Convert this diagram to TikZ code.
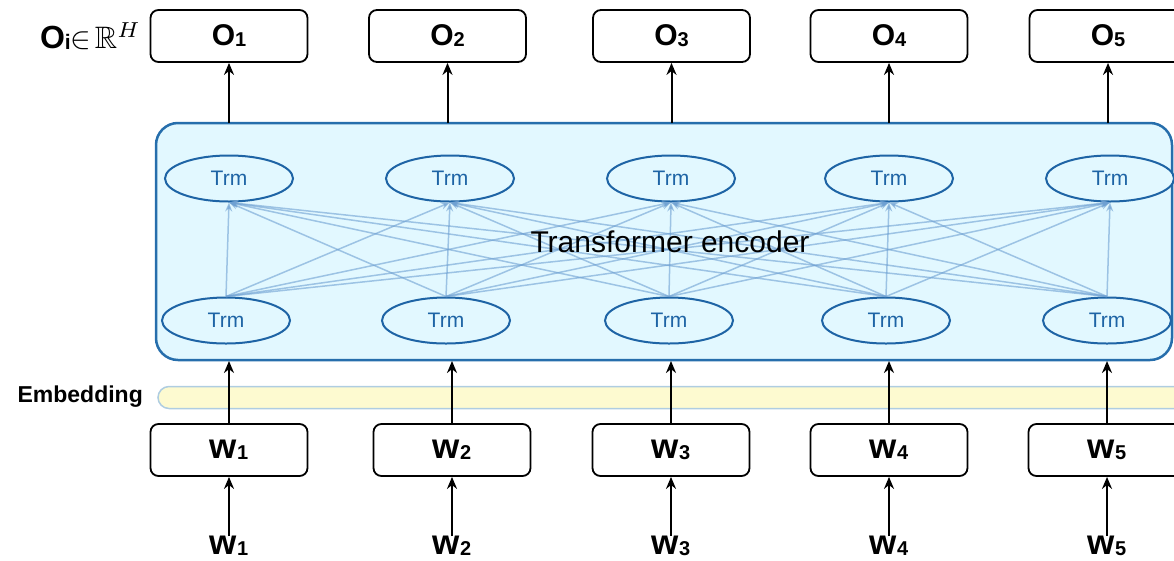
\documentclass[tikz,border=0pt]{standalone}
\usepackage{amssymb}
\usepackage{graphicx}
\usepackage{fontspec}
\setmainfont{Liberation Sans}
\usetikzlibrary{arrows.meta,shapes.geometric}
\definecolor{encfill}{RGB}{226,248,255}
\definecolor{encline}{RGB}{38,110,172}
\definecolor{trmblue}{RGB}{30,100,165}
\definecolor{attn}{RGB}{110,160,210}
\definecolor{embfill}{RGB}{253,250,208}
\definecolor{embline}{RGB}{175,205,225}
\tikzset{
  tokbox/.style={draw=black, line width=1.8pt, rounded corners=8pt, fill=white,
    minimum width=157pt, minimum height=52pt, inner sep=0pt},
  trm/.style={ellipse, draw=trmblue, line width=2pt, fill=encfill,
    minimum width=128pt, minimum height=46pt, inner sep=0pt,
    text=trmblue, font=\fontsize{21}{21}\selectfont},
  uparrow/.style={-{Stealth[length=12pt,width=10pt]}, line width=2pt, black},
  attnline/.style={-{Stealth[length=9pt,width=7pt]}, line width=1.5pt, draw=attn, opacity=0.6},
  otxt/.style={font=\fontsize{30}{30}\selectfont\bfseries},
  wtxt/.style={font=\fontsize{35}{35}\selectfont\bfseries},
}
\newcommand{\osub}[1]{\raisebox{-1pt}{\fontsize{20}{20}\selectfont\bfseries #1}}
\begin{document}
\begin{tikzpicture}[x=1pt,y=-1pt]
\useasboundingbox (0,0) rectangle (1174,560);
\clip (0,0) rectangle (1174,560);

% encoder panel and embedding strip
\node[draw=encline, line width=2.5pt, rounded corners=22pt, fill=encfill,
  minimum width=1016pt, minimum height=237pt, inner sep=0pt] (enc) at (664,241.5) {};
\node[draw=embline, line width=1.5pt, rounded corners=11pt, fill=embfill,
  minimum width=1060pt, minimum height=22pt, inner sep=0pt] (emb) at (688,397.5) {};

% labels on the left
\node[anchor=east, inner sep=0pt] (emblabel) at (143,397)
  {\fontsize{23}{23}\selectfont\bfseries Embedding};
\node[anchor=east, inner sep=0pt] (olabel) at (141,36)
  {{\fontsize{32}{32}\selectfont\bfseries O}\raisebox{-1pt}{\fontsize{21}{21}\selectfont\bfseries i}\scalebox{3.1}{$\in\!\mathbb{R}^{H}$}};

% columns
\foreach \i/\xo/\xt/\xb/\xw in {1/229/229/226/229, 2/447.5/450/446/452, 3/671.5/671/669/671, 4/889/889/886/889, 5/1108/1110/1107/1107}{
  \node[tokbox, otxt] (o\i) at (\xo,36) {O\osub{\i}};
  \node[trm] (t\i) at (\xt,178.5) {Trm};
  \node[trm] (b\i) at (\xb,320.5) {Trm};
  \node[tokbox, wtxt] (e\i) at (\xw,450) {w\osub{\i}};
  \node[wtxt, inner sep=0pt] (w\i) at (\xw,546) {w\osub{\i}};
  \coordinate (eo\i) at (\xo,123);
  \coordinate (ei\i) at (\xw,361);
}

% attention connections between the two layers
\foreach \i in {1,...,5}{
  \foreach \j in {1,...,5}{
    \draw[attnline] (b\i.north) -- (t\j.south);
  }
}
\node[font=\fontsize{30}{30}\selectfont] (enctext) at (670,242) {Transformer encoder};

% black flow arrows
\foreach \i in {1,...,5}{
  \draw[uparrow] (eo\i) -- (o\i.south);
  \draw[uparrow] (e\i.north) -- (ei\i);
  \draw[uparrow] (w\i.north) -- (e\i.south);
}
\end{tikzpicture}
\end{document}
